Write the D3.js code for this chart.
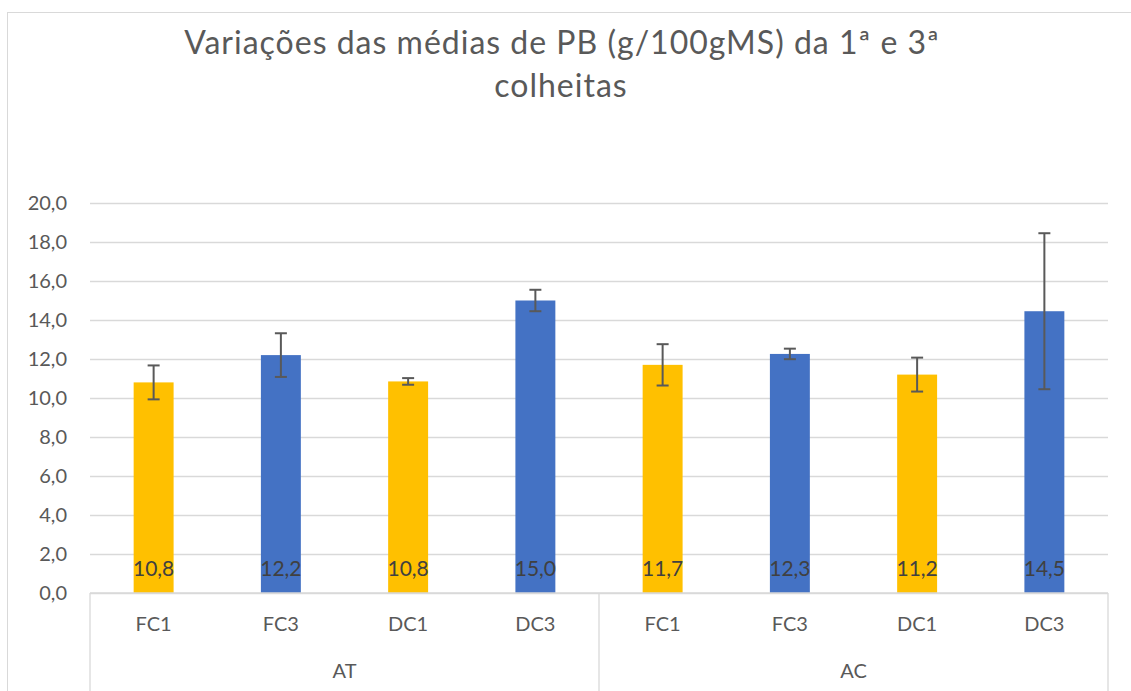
<!DOCTYPE html>
<html>
<head>
<meta charset="utf-8">
<script src="https://cdn.jsdelivr.net/npm/d3@7"></script>
<style>
  body { margin: 0; background: #fff; }
  text { font-family: Lato, "Open Sans", sans-serif; }
</style>
</head>
<body>
<div id="chart"></div>
<script>
// data
const groups = ['AT', 'AC'];
const categories = ['FC1', 'FC3', 'DC1', 'DC3'];
const means = [10.8, 12.2, 10.85, 15.0, 11.7, 12.26, 11.2, 14.45];
const labels = ['10,8', '12,2', '10,8', '15,0', '11,7', '12,3', '11,2', '14,5'];
const errors = [0.87, 1.12, 0.17, 0.55, 1.06, 0.27, 0.87, 4.0];
const barColors = ['#FFC000', '#4472C4', '#FFC000', '#4472C4'];
const yTicks = [0, 2, 4, 6, 8, 10, 12, 14, 16, 18, 20];

const W = 1131, H = 691;
const margin = { top: 203, right: 23, bottom: 98, left: 90 };
const width = W - margin.left - margin.right;
const height = H - margin.top - margin.bottom;

const rows = [];
groups.forEach((g, gi) => categories.forEach((c, ci) => {
    const i = gi * categories.length + ci;
    rows.push({ key: g + '-' + c, group: g, cat: c, ci: ci, value: means[i], label: labels[i], err: errors[i] });
}));

const svg = d3.select('#chart').append('svg')
    .attr('width', W)
    .attr('height', H);

// outer chart frame
svg.append('rect')
    .attr('x', 7.5).attr('y', 12.5)
    .attr('width', 1140).attr('height', 700)
    .attr('fill', 'none')
    .attr('stroke', '#d9d9d9');

svg.append('text')
    .attr('x', 562).attr('y', 54)
    .attr('text-anchor', 'middle')
    .attr('font-size', 32)
    .attr('letter-spacing', 1)
    .attr('fill', '#595959')
    .text('Variações das médias de PB (g/100gMS) da 1ª e 3ª');
svg.append('text')
    .attr('x', 561).attr('y', 97)
    .attr('text-anchor', 'middle')
    .attr('font-size', 32)
    .attr('letter-spacing', 1)
    .attr('fill', '#595959')
    .text('colheitas');

const g = svg.append('g')
    .attr('transform', 'translate(' + margin.left + ',' + margin.top + ')');

const x = d3.scaleBand()
    .domain(rows.map(d => d.key))
    .range([0, width])
    .paddingInner(0.686)
    .paddingOuter(0.343);

const y = d3.scaleLinear()
    .domain([0, 20])
    .range([height, 0]);

// gridlines + tick labels
const yAxis = g.append('g')
    .call(d3.axisLeft(y).tickValues(yTicks).tickSize(-width).tickPadding(23)
        .tickFormat(d => d3.format('.1f')(d).replace('.', ',')));
yAxis.select('.domain').remove();
yAxis.selectAll('.tick line').attr('stroke', '#d9d9d9').attr('stroke-width', 1.3);
yAxis.selectAll('.tick text')
    .attr('fill', '#595959')
    .attr('font-size', 20)
    .style('font-family', 'Lato, sans-serif');

// bars
g.selectAll('.bar')
    .data(rows)
    .enter().append('rect')
    .attr('class', 'bar')
    .attr('x', d => x(d.key))
    .attr('y', d => y(d.value))
    .attr('width', x.bandwidth())
    .attr('height', d => height - y(d.value))
    .attr('fill', d => barColors[d.ci]);

// error bars
const eb = g.selectAll('.err')
    .data(rows)
    .enter().append('g')
    .attr('class', 'err')
    .attr('stroke', '#595959')
    .attr('stroke-width', 2);
eb.append('line')
    .attr('x1', d => x(d.key) + x.bandwidth() / 2)
    .attr('x2', d => x(d.key) + x.bandwidth() / 2)
    .attr('y1', d => y(d.value + d.err))
    .attr('y2', d => y(d.value - d.err));
eb.selectAll('.cap')
    .data(d => [d.value + d.err, d.value - d.err].map(v => ({ key: d.key, v: v })))
    .enter().append('line')
    .attr('x1', d => x(d.key) + x.bandwidth() / 2 - 6)
    .attr('x2', d => x(d.key) + x.bandwidth() / 2 + 6)
    .attr('y1', d => y(d.v))
    .attr('y2', d => y(d.v));

// data labels at base
g.selectAll('.lbl')
    .data(rows)
    .enter().append('text')
    .attr('x', d => x(d.key) + x.bandwidth() / 2)
    .attr('y', height - 17)
    .attr('text-anchor', 'middle')
    .attr('font-size', 21)
    .attr('fill', '#404040')
    .text(d => d.label);

// multi-level category axis
const ax = g.append('g').attr('stroke', '#d9d9d9').attr('stroke-width', 1.3);
ax.append('line')
    .attr('x1', 0).attr('x2', width)
    .attr('y1', height).attr('y2', height);
const groupEdges = [0, width / 2, width];
ax.selectAll('.edge')
    .data(groupEdges)
    .enter().append('line')
    .attr('x1', d => d).attr('x2', d => d)
    .attr('y1', height).attr('y2', height + 100);

g.selectAll('.cat')
    .data(rows)
    .enter().append('text')
    .attr('x', d => x(d.key) + x.bandwidth() / 2)
    .attr('y', height + 38)
    .attr('text-anchor', 'middle')
    .attr('font-size', 20)
    .attr('fill', '#595959')
    .text(d => d.cat);

g.selectAll('.grp')
    .data(groups)
    .enter().append('text')
    .attr('x', (d, i) => width / 4 + i * width / 2)
    .attr('y', height + 85)
    .attr('text-anchor', 'middle')
    .attr('font-size', 20)
    .attr('fill', '#595959')
    .text(d => d);
</script>
</body>
</html>
